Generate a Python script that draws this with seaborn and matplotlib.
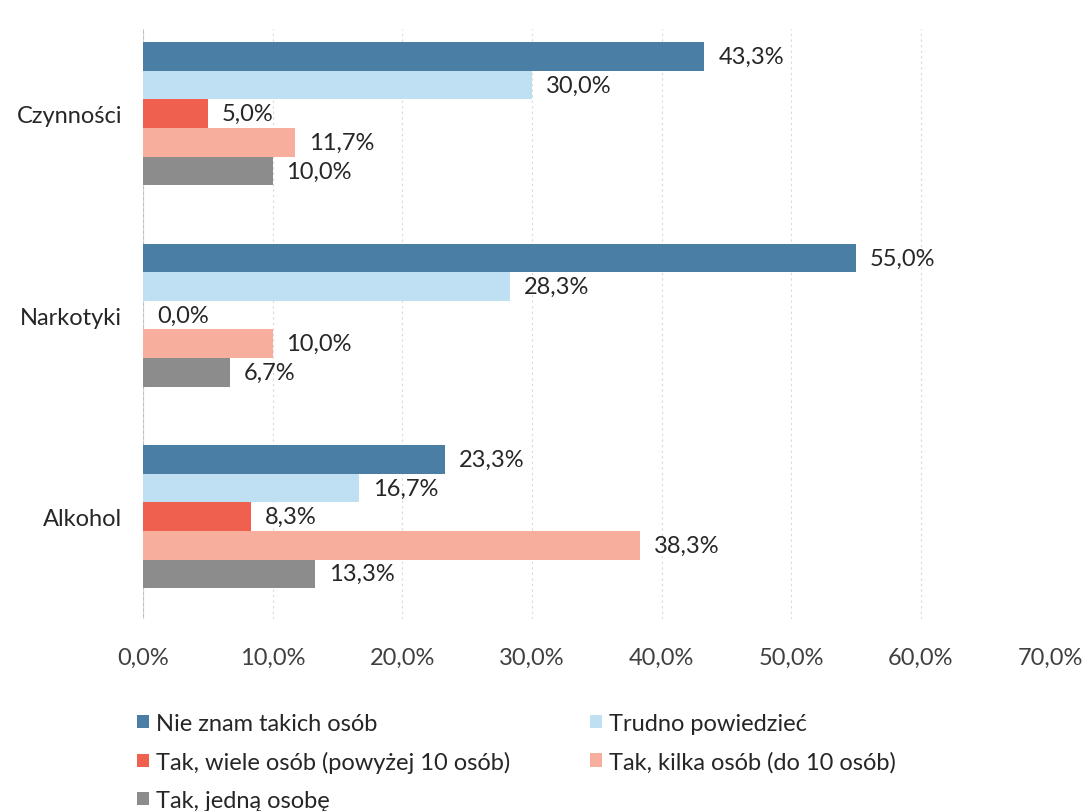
import numpy as np
import matplotlib.pyplot as plt
import pandas as pd
import seaborn as sns

categories = ["Czynności", "Narkotyki", "Alkohol"]
series = ["Nie znam takich osób", "Trudno powiedzieć",
          "Tak, wiele osób (powyżej 10 osób)", "Tak, kilka osób (do 10 osób)",
          "Tak, jedną osobę"]
nie_znam = [43.3, 55.0, 23.3]
trudno = [30.0, 28.3, 16.7]
wiele = [5.0, 0.0, 8.3]
kilka = [11.7, 10.0, 38.3]
jedna = [10.0, 6.7, 13.3]
colors = ["#4a7ea5", "#bfe0f3", "#f0604f", "#f7ae9c", "#8c8c8c"]

values = [nie_znam, trudno, wiele, kilka, jedna]
rows = []
for s, vals in zip(series, values):
    for c, v in zip(categories, vals):
        rows.append({"cat": c, "series": s, "val": v})
df = pd.DataFrame(rows)

sns.set_style("white")
plt.rcParams['font.family'] = ['Lato', 'DejaVu Sans']

fig = plt.figure(figsize=(10.91, 8.12), dpi=100)
ax = fig.add_axes([0.131, 0.236, 0.832, 0.727])

sns.barplot(data=df, y="cat", x="val", hue="series", order=categories,
            hue_order=series, palette=colors, width=0.71, orient="h",
            saturation=1, ax=ax, legend=True, linewidth=0)

for cont in ax.containers:
    ax.bar_label(cont, labels=[f"{w:.1f}%".replace(".", ",") for w in cont.datavalues],
                 padding=10, fontsize=17, color="#262626")

ax.set_xlim(0, 70)
ax.set_ylim(2.51, -0.42)
ax.set_xticks(np.arange(0, 71, 10))
ax.set_xticklabels([f"{t:.1f}%".replace(".", ",") for t in np.arange(0, 71, 10)])
ax.tick_params(axis="x", labelsize=17, colors="#404040", pad=20, length=0)
ax.tick_params(axis="y", labelsize=17, colors="#262626", pad=15, length=0)
ax.set_xlabel("")
ax.set_ylabel("")
ax.xaxis.grid(True, color="#d9d9d9", linewidth=0.8, linestyle=(0, (2, 3)))
ax.set_axisbelow(True)
for sp in ax.spines.values():
    sp.set_visible(False)
ax.axvline(0, color="#bfbfbf", linewidth=0.8, zorder=0)

handles, labels = ax.get_legend_handles_labels()
order = [0, 2, 4, 1, 3]
ax.legend([handles[i] for i in order], [labels[i] for i in order],
          loc="upper left", bbox_to_anchor=(-0.03, -0.122),
          ncol=2, frameon=False, fontsize=17, handlelength=0.5,
          handleheight=0.5, handletextpad=0.3, columnspacing=3.4,
          labelspacing=0.72)

fig.savefig("out.png", dpi=100)
